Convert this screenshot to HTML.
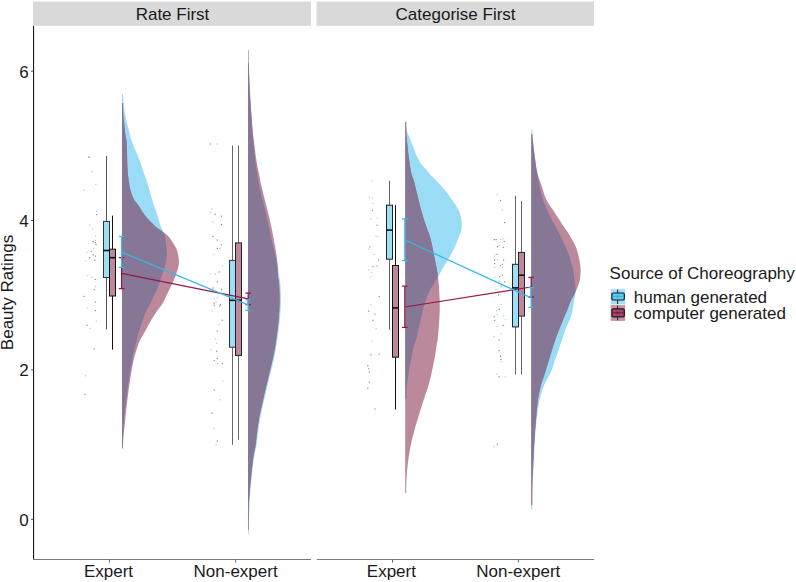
<!DOCTYPE html>
<html><head><meta charset="utf-8"><title>Beauty Ratings</title>
<style>
html,body{margin:0;padding:0;background:#fff;}
body{width:796px;height:582px;overflow:hidden;}
svg{display:block;}
svg text{font-family:"Liberation Sans",sans-serif;font-size:17px;fill:#1a1a1a;}
</style></head><body>
<svg width="796" height="582" viewBox="0 0 796 582">
<rect width="796" height="582" fill="#fff"/>
<clipPath id="ca"><path d="M123.10,93.90 C123.25,96.12 123.62,103.55 124.00,107.20 C124.38,110.85 124.85,112.95 125.40,115.80 C125.95,118.65 126.63,121.45 127.30,124.30 C127.97,127.15 128.73,130.28 129.40,132.90 C130.07,135.52 130.28,137.10 131.30,140.00 C132.32,142.90 134.12,146.87 135.50,150.30 C136.88,153.73 138.32,157.17 139.60,160.60 C140.88,164.03 142.00,167.47 143.20,170.90 C144.40,174.33 145.68,177.77 146.80,181.20 C147.92,184.63 148.98,188.37 149.90,191.50 C150.82,194.63 151.63,197.70 152.30,200.00 C152.97,202.30 153.03,202.70 153.90,205.30 C154.77,207.90 156.38,212.17 157.50,215.60 C158.62,219.03 159.60,223.12 160.60,225.90 C161.60,228.68 162.77,230.58 163.50,232.30 C164.23,234.02 164.53,233.83 165.00,236.20 C165.47,238.57 166.00,243.32 166.30,246.50 C166.60,249.68 166.97,252.12 166.80,255.30 C166.63,258.48 166.17,262.17 165.30,265.60 C164.43,269.03 162.77,272.47 161.60,275.90 C160.43,279.33 159.63,282.77 158.30,286.20 C156.97,289.63 154.90,293.70 153.60,296.50 C152.30,299.30 151.67,300.70 150.50,303.00 C149.33,305.30 147.90,307.37 146.60,310.30 C145.30,313.23 143.95,317.17 142.70,320.60 C141.45,324.03 140.13,327.47 139.10,330.90 C138.07,334.33 137.37,337.77 136.50,341.20 C135.63,344.63 134.60,348.37 133.90,351.50 C133.20,354.63 132.95,356.55 132.30,360.00 C131.65,363.45 130.80,367.30 130.00,372.20 C129.20,377.10 128.27,383.68 127.50,389.40 C126.73,395.12 126.03,400.78 125.40,406.50 C124.77,412.22 124.08,417.97 123.70,423.70 C123.32,429.43 123.20,437.02 123.10,440.90 C123.00,444.78 123.10,445.98 123.10,447.00 L122.00,447.00 L122.00,93.90 Z"/></clipPath>
<path d="M123.10,93.90 C123.25,96.12 123.62,103.55 124.00,107.20 C124.38,110.85 124.85,112.95 125.40,115.80 C125.95,118.65 126.63,121.45 127.30,124.30 C127.97,127.15 128.73,130.28 129.40,132.90 C130.07,135.52 130.28,137.10 131.30,140.00 C132.32,142.90 134.12,146.87 135.50,150.30 C136.88,153.73 138.32,157.17 139.60,160.60 C140.88,164.03 142.00,167.47 143.20,170.90 C144.40,174.33 145.68,177.77 146.80,181.20 C147.92,184.63 148.98,188.37 149.90,191.50 C150.82,194.63 151.63,197.70 152.30,200.00 C152.97,202.30 153.03,202.70 153.90,205.30 C154.77,207.90 156.38,212.17 157.50,215.60 C158.62,219.03 159.60,223.12 160.60,225.90 C161.60,228.68 162.77,230.58 163.50,232.30 C164.23,234.02 164.53,233.83 165.00,236.20 C165.47,238.57 166.00,243.32 166.30,246.50 C166.60,249.68 166.97,252.12 166.80,255.30 C166.63,258.48 166.17,262.17 165.30,265.60 C164.43,269.03 162.77,272.47 161.60,275.90 C160.43,279.33 159.63,282.77 158.30,286.20 C156.97,289.63 154.90,293.70 153.60,296.50 C152.30,299.30 151.67,300.70 150.50,303.00 C149.33,305.30 147.90,307.37 146.60,310.30 C145.30,313.23 143.95,317.17 142.70,320.60 C141.45,324.03 140.13,327.47 139.10,330.90 C138.07,334.33 137.37,337.77 136.50,341.20 C135.63,344.63 134.60,348.37 133.90,351.50 C133.20,354.63 132.95,356.55 132.30,360.00 C131.65,363.45 130.80,367.30 130.00,372.20 C129.20,377.10 128.27,383.68 127.50,389.40 C126.73,395.12 126.03,400.78 125.40,406.50 C124.77,412.22 124.08,417.97 123.70,423.70 C123.32,429.43 123.20,437.02 123.10,440.90 C123.00,444.78 123.10,445.98 123.10,447.00 L122.00,447.00 L122.00,93.90 Z" fill="#9adcf6"/>
<path d="M123.10,102.90 C123.10,103.62 123.05,105.05 123.10,107.20 C123.15,109.35 123.20,112.95 123.40,115.80 C123.60,118.65 124.00,121.45 124.30,124.30 C124.60,127.15 124.85,130.28 125.20,132.90 C125.55,135.52 126.10,137.10 126.40,140.00 C126.70,142.90 126.87,146.87 127.00,150.30 C127.13,153.73 127.08,157.17 127.20,160.60 C127.32,164.03 127.43,167.47 127.70,170.90 C127.97,174.33 128.28,177.77 128.80,181.20 C129.32,184.63 129.87,188.37 130.80,191.50 C131.73,194.63 133.13,197.70 134.40,200.00 C135.67,202.30 136.62,202.70 138.40,205.30 C140.18,207.90 142.35,212.17 145.10,215.60 C147.85,219.03 151.83,223.12 154.90,225.90 C157.97,228.68 161.27,230.58 163.50,232.30 C165.73,234.02 167.02,234.92 168.30,236.20 C169.58,237.48 170.05,238.28 171.20,240.00 C172.35,241.72 174.25,244.83 175.20,246.50 C176.15,248.17 176.38,248.53 176.90,250.00 C177.42,251.47 177.98,253.63 178.30,255.30 C178.62,256.97 178.75,258.28 178.80,260.00 C178.85,261.72 179.13,262.95 178.60,265.60 C178.07,268.25 176.88,272.47 175.60,275.90 C174.32,279.33 172.50,282.77 170.90,286.20 C169.30,289.63 167.33,293.70 166.00,296.50 C164.67,299.30 164.30,300.70 162.90,303.00 C161.50,305.30 159.60,307.37 157.60,310.30 C155.60,313.23 152.95,317.17 150.90,320.60 C148.85,324.03 147.18,327.47 145.30,330.90 C143.42,334.33 141.15,337.77 139.60,341.20 C138.05,344.63 137.00,348.37 136.00,351.50 C135.00,354.63 134.38,356.55 133.60,360.00 C132.82,363.45 132.12,367.30 131.30,372.20 C130.48,377.10 129.48,383.68 128.70,389.40 C127.92,395.12 127.25,400.78 126.60,406.50 C125.95,412.22 125.38,417.97 124.80,423.70 C124.22,429.43 123.38,436.75 123.10,440.90 C122.82,445.05 123.10,447.32 123.10,448.60 L122.00,448.60 L122.00,102.90 Z" fill="#bc899c"/>
<path d="M123.10,102.90 C123.10,103.62 123.05,105.05 123.10,107.20 C123.15,109.35 123.20,112.95 123.40,115.80 C123.60,118.65 124.00,121.45 124.30,124.30 C124.60,127.15 124.85,130.28 125.20,132.90 C125.55,135.52 126.10,137.10 126.40,140.00 C126.70,142.90 126.87,146.87 127.00,150.30 C127.13,153.73 127.08,157.17 127.20,160.60 C127.32,164.03 127.43,167.47 127.70,170.90 C127.97,174.33 128.28,177.77 128.80,181.20 C129.32,184.63 129.87,188.37 130.80,191.50 C131.73,194.63 133.13,197.70 134.40,200.00 C135.67,202.30 136.62,202.70 138.40,205.30 C140.18,207.90 142.35,212.17 145.10,215.60 C147.85,219.03 151.83,223.12 154.90,225.90 C157.97,228.68 161.27,230.58 163.50,232.30 C165.73,234.02 167.02,234.92 168.30,236.20 C169.58,237.48 170.05,238.28 171.20,240.00 C172.35,241.72 174.25,244.83 175.20,246.50 C176.15,248.17 176.38,248.53 176.90,250.00 C177.42,251.47 177.98,253.63 178.30,255.30 C178.62,256.97 178.75,258.28 178.80,260.00 C178.85,261.72 179.13,262.95 178.60,265.60 C178.07,268.25 176.88,272.47 175.60,275.90 C174.32,279.33 172.50,282.77 170.90,286.20 C169.30,289.63 167.33,293.70 166.00,296.50 C164.67,299.30 164.30,300.70 162.90,303.00 C161.50,305.30 159.60,307.37 157.60,310.30 C155.60,313.23 152.95,317.17 150.90,320.60 C148.85,324.03 147.18,327.47 145.30,330.90 C143.42,334.33 141.15,337.77 139.60,341.20 C138.05,344.63 137.00,348.37 136.00,351.50 C135.00,354.63 134.38,356.55 133.60,360.00 C132.82,363.45 132.12,367.30 131.30,372.20 C130.48,377.10 129.48,383.68 128.70,389.40 C127.92,395.12 127.25,400.78 126.60,406.50 C125.95,412.22 125.38,417.97 124.80,423.70 C124.22,429.43 123.38,436.75 123.10,440.90 C122.82,445.05 123.10,447.32 123.10,448.60 L122.00,448.60 L122.00,102.90 Z" fill="#867797" clip-path="url(#ca)"/>
<clipPath id="cb"><path d="M248.80,63.00 C248.90,65.83 249.13,73.83 249.40,80.00 C249.67,86.17 250.05,94.08 250.40,100.00 C250.75,105.92 251.15,110.35 251.50,115.50 C251.85,120.65 252.11,125.75 252.50,130.90 C252.90,136.05 253.42,141.25 253.89,146.40 C254.36,151.55 254.67,156.65 255.33,161.80 C255.98,166.95 257.17,173.43 257.81,177.30 C258.44,181.17 258.32,181.13 259.15,185.00 C259.98,188.87 261.56,195.35 262.80,200.50 C264.03,205.65 265.36,210.75 266.54,215.90 C267.72,221.05 268.73,226.25 269.86,231.40 C270.98,236.55 272.12,241.65 273.27,246.80 C274.42,251.95 275.77,257.60 276.74,262.30 C277.71,267.00 278.49,271.13 279.10,275.00 C279.71,278.87 280.10,281.18 280.40,285.50 C280.70,289.82 280.95,295.75 280.90,300.90 C280.85,306.05 280.50,311.25 280.10,316.40 C279.70,321.55 279.15,326.65 278.50,331.80 C277.85,336.95 276.82,343.43 276.20,347.30 C275.58,351.17 275.63,351.13 274.80,355.00 C273.97,358.87 272.43,365.35 271.20,370.50 C269.97,375.65 268.63,380.75 267.40,385.90 C266.17,391.05 264.95,396.25 263.80,401.40 C262.65,406.55 261.45,411.65 260.50,416.80 C259.55,421.95 258.77,427.60 258.10,432.30 C257.43,437.00 257.17,440.85 256.50,445.00 C255.83,449.15 254.85,452.30 254.10,457.20 C253.35,462.10 252.63,468.68 252.00,474.40 C251.37,480.12 250.73,485.78 250.30,491.50 C249.87,497.22 249.65,502.97 249.40,508.70 C249.15,514.43 248.90,521.60 248.80,525.90 C248.70,530.20 248.80,533.07 248.80,534.50 L248.00,534.50 L248.00,63.00 Z"/></clipPath>
<path d="M248.80,63.00 C248.90,65.83 249.13,73.83 249.40,80.00 C249.67,86.17 250.05,94.08 250.40,100.00 C250.75,105.92 251.15,110.35 251.50,115.50 C251.85,120.65 252.11,125.75 252.50,130.90 C252.90,136.05 253.42,141.25 253.89,146.40 C254.36,151.55 254.67,156.65 255.33,161.80 C255.98,166.95 257.17,173.43 257.81,177.30 C258.44,181.17 258.32,181.13 259.15,185.00 C259.98,188.87 261.56,195.35 262.80,200.50 C264.03,205.65 265.36,210.75 266.54,215.90 C267.72,221.05 268.73,226.25 269.86,231.40 C270.98,236.55 272.12,241.65 273.27,246.80 C274.42,251.95 275.77,257.60 276.74,262.30 C277.71,267.00 278.49,271.13 279.10,275.00 C279.71,278.87 280.10,281.18 280.40,285.50 C280.70,289.82 280.95,295.75 280.90,300.90 C280.85,306.05 280.50,311.25 280.10,316.40 C279.70,321.55 279.15,326.65 278.50,331.80 C277.85,336.95 276.82,343.43 276.20,347.30 C275.58,351.17 275.63,351.13 274.80,355.00 C273.97,358.87 272.43,365.35 271.20,370.50 C269.97,375.65 268.63,380.75 267.40,385.90 C266.17,391.05 264.95,396.25 263.80,401.40 C262.65,406.55 261.45,411.65 260.50,416.80 C259.55,421.95 258.77,427.60 258.10,432.30 C257.43,437.00 257.17,440.85 256.50,445.00 C255.83,449.15 254.85,452.30 254.10,457.20 C253.35,462.10 252.63,468.68 252.00,474.40 C251.37,480.12 250.73,485.78 250.30,491.50 C249.87,497.22 249.65,502.97 249.40,508.70 C249.15,514.43 248.90,521.60 248.80,525.90 C248.70,530.20 248.80,533.07 248.80,534.50 L248.00,534.50 L248.00,63.00 Z" fill="#9adcf6"/>
<path d="M248.80,50.20 C248.80,52.33 248.70,58.03 248.80,63.00 C248.90,67.97 249.13,73.83 249.40,80.00 C249.67,86.17 250.05,94.08 250.40,100.00 C250.75,105.92 251.12,110.35 251.50,115.50 C251.88,120.65 252.18,125.75 252.70,130.90 C253.22,136.05 253.95,141.25 254.60,146.40 C255.25,151.55 255.75,156.65 256.60,161.80 C257.45,166.95 258.93,173.43 259.70,177.30 C260.47,181.17 260.32,181.13 261.20,185.00 C262.08,188.87 263.72,195.35 265.00,200.50 C266.28,205.65 267.68,210.75 268.90,215.90 C270.12,221.05 271.27,226.25 272.30,231.40 C273.33,236.55 274.25,241.65 275.10,246.80 C275.95,251.95 276.93,257.60 277.40,262.30 C277.87,267.00 277.60,271.13 277.90,275.00 C278.20,278.87 278.90,281.18 279.21,285.50 C279.51,289.82 279.76,295.75 279.72,300.90 C279.67,306.05 279.32,311.25 278.93,316.40 C278.53,321.55 277.99,326.65 277.34,331.80 C276.69,336.95 275.66,343.43 275.05,347.30 C274.44,351.17 274.49,351.13 273.66,355.00 C272.82,358.87 271.30,365.35 270.07,370.50 C268.84,375.65 267.51,380.75 266.28,385.90 C265.05,391.05 263.83,396.25 262.69,401.40 C261.54,406.55 260.33,411.65 259.40,416.80 C258.47,421.95 257.73,427.60 257.10,432.30 C256.47,437.00 256.24,440.85 255.61,445.00 C254.98,449.15 254.02,452.30 253.31,457.20 C252.60,462.10 251.95,468.68 251.35,474.40 C250.75,480.12 250.13,485.78 249.70,491.50 C249.27,497.22 248.95,502.28 248.80,508.70 C248.65,515.12 248.80,526.45 248.80,530.00 L248.00,530.00 L248.00,50.20 Z" fill="#bc899c"/>
<path d="M248.80,50.20 C248.80,52.33 248.70,58.03 248.80,63.00 C248.90,67.97 249.13,73.83 249.40,80.00 C249.67,86.17 250.05,94.08 250.40,100.00 C250.75,105.92 251.12,110.35 251.50,115.50 C251.88,120.65 252.18,125.75 252.70,130.90 C253.22,136.05 253.95,141.25 254.60,146.40 C255.25,151.55 255.75,156.65 256.60,161.80 C257.45,166.95 258.93,173.43 259.70,177.30 C260.47,181.17 260.32,181.13 261.20,185.00 C262.08,188.87 263.72,195.35 265.00,200.50 C266.28,205.65 267.68,210.75 268.90,215.90 C270.12,221.05 271.27,226.25 272.30,231.40 C273.33,236.55 274.25,241.65 275.10,246.80 C275.95,251.95 276.93,257.60 277.40,262.30 C277.87,267.00 277.60,271.13 277.90,275.00 C278.20,278.87 278.90,281.18 279.21,285.50 C279.51,289.82 279.76,295.75 279.72,300.90 C279.67,306.05 279.32,311.25 278.93,316.40 C278.53,321.55 277.99,326.65 277.34,331.80 C276.69,336.95 275.66,343.43 275.05,347.30 C274.44,351.17 274.49,351.13 273.66,355.00 C272.82,358.87 271.30,365.35 270.07,370.50 C268.84,375.65 267.51,380.75 266.28,385.90 C265.05,391.05 263.83,396.25 262.69,401.40 C261.54,406.55 260.33,411.65 259.40,416.80 C258.47,421.95 257.73,427.60 257.10,432.30 C256.47,437.00 256.24,440.85 255.61,445.00 C254.98,449.15 254.02,452.30 253.31,457.20 C252.60,462.10 251.95,468.68 251.35,474.40 C250.75,480.12 250.13,485.78 249.70,491.50 C249.27,497.22 248.95,502.28 248.80,508.70 C248.65,515.12 248.80,526.45 248.80,530.00 L248.00,530.00 L248.00,50.20 Z" fill="#867797" clip-path="url(#cb)"/>
<clipPath id="cc"><path d="M406.30,122.00 C406.30,122.67 406.15,124.38 406.30,126.00 C406.45,127.62 406.60,129.60 407.20,131.70 C407.80,133.80 408.98,136.30 409.90,138.60 C410.82,140.90 411.78,143.20 412.70,145.50 C413.62,147.80 414.58,150.32 415.40,152.40 C416.22,154.48 416.30,155.65 417.60,158.00 C418.90,160.35 421.67,164.50 423.20,166.50 C424.73,168.50 425.57,168.58 426.80,170.00 C428.03,171.42 429.08,173.28 430.60,175.00 C432.12,176.72 433.47,177.70 435.90,180.30 C438.33,182.90 442.37,187.17 445.20,190.60 C448.03,194.03 450.58,197.47 452.90,200.90 C455.22,204.33 457.65,207.77 459.10,211.20 C460.55,214.63 461.22,218.37 461.60,221.50 C461.98,224.63 461.75,227.70 461.40,230.00 C461.05,232.30 460.50,232.70 459.50,235.30 C458.50,237.90 456.95,242.17 455.40,245.60 C453.85,249.03 452.10,252.47 450.20,255.90 C448.30,259.33 446.00,262.77 444.00,266.20 C442.00,269.63 440.00,273.37 438.20,276.50 C436.40,279.63 434.58,282.70 433.20,285.00 C431.82,287.30 431.13,287.70 429.90,290.30 C428.67,292.90 427.00,297.17 425.80,300.60 C424.60,304.03 423.60,307.47 422.70,310.90 C421.80,314.33 421.18,317.77 420.40,321.20 C419.62,324.63 418.73,328.37 418.00,331.50 C417.27,334.63 416.68,337.70 416.00,340.00 C415.32,342.30 414.58,342.70 413.90,345.30 C413.22,347.90 412.58,352.17 411.90,355.60 C411.22,359.03 410.42,362.47 409.80,365.90 C409.18,369.33 408.72,372.77 408.20,376.20 C407.68,379.63 407.02,383.37 406.70,386.50 C406.38,389.63 406.37,392.92 406.30,395.00 C406.23,397.08 406.30,398.33 406.30,399.00 L405.20,399.00 L405.20,122.00 Z"/></clipPath>
<path d="M406.30,122.00 C406.30,122.67 406.15,124.38 406.30,126.00 C406.45,127.62 406.60,129.60 407.20,131.70 C407.80,133.80 408.98,136.30 409.90,138.60 C410.82,140.90 411.78,143.20 412.70,145.50 C413.62,147.80 414.58,150.32 415.40,152.40 C416.22,154.48 416.30,155.65 417.60,158.00 C418.90,160.35 421.67,164.50 423.20,166.50 C424.73,168.50 425.57,168.58 426.80,170.00 C428.03,171.42 429.08,173.28 430.60,175.00 C432.12,176.72 433.47,177.70 435.90,180.30 C438.33,182.90 442.37,187.17 445.20,190.60 C448.03,194.03 450.58,197.47 452.90,200.90 C455.22,204.33 457.65,207.77 459.10,211.20 C460.55,214.63 461.22,218.37 461.60,221.50 C461.98,224.63 461.75,227.70 461.40,230.00 C461.05,232.30 460.50,232.70 459.50,235.30 C458.50,237.90 456.95,242.17 455.40,245.60 C453.85,249.03 452.10,252.47 450.20,255.90 C448.30,259.33 446.00,262.77 444.00,266.20 C442.00,269.63 440.00,273.37 438.20,276.50 C436.40,279.63 434.58,282.70 433.20,285.00 C431.82,287.30 431.13,287.70 429.90,290.30 C428.67,292.90 427.00,297.17 425.80,300.60 C424.60,304.03 423.60,307.47 422.70,310.90 C421.80,314.33 421.18,317.77 420.40,321.20 C419.62,324.63 418.73,328.37 418.00,331.50 C417.27,334.63 416.68,337.70 416.00,340.00 C415.32,342.30 414.58,342.70 413.90,345.30 C413.22,347.90 412.58,352.17 411.90,355.60 C411.22,359.03 410.42,362.47 409.80,365.90 C409.18,369.33 408.72,372.77 408.20,376.20 C407.68,379.63 407.02,383.37 406.70,386.50 C406.38,389.63 406.37,392.92 406.30,395.00 C406.23,397.08 406.30,398.33 406.30,399.00 L405.20,399.00 L405.20,122.00 Z" fill="#9adcf6"/>
<path d="M406.30,122.00 C406.30,123.62 406.23,128.93 406.30,131.70 C406.37,134.47 406.50,136.30 406.70,138.60 C406.90,140.90 407.25,143.20 407.50,145.50 C407.75,147.80 407.97,150.32 408.20,152.40 C408.43,154.48 408.58,155.65 408.90,158.00 C409.22,160.35 409.62,163.67 410.10,166.50 C410.58,169.33 411.18,172.70 411.80,175.00 C412.42,177.30 413.05,177.70 413.80,180.30 C414.55,182.90 415.45,187.17 416.30,190.60 C417.15,194.03 418.03,197.47 418.90,200.90 C419.77,204.33 420.55,207.77 421.50,211.20 C422.45,214.63 423.58,218.37 424.60,221.50 C425.62,224.63 426.77,227.70 427.60,230.00 C428.43,232.30 428.83,232.70 429.60,235.30 C430.37,237.90 431.43,242.17 432.20,245.60 C432.97,249.03 433.52,252.47 434.20,255.90 C434.88,259.33 435.67,262.77 436.30,266.20 C436.93,269.63 437.57,273.37 438.00,276.50 C438.43,279.63 438.70,282.70 438.90,285.00 C439.10,287.30 439.07,287.70 439.20,290.30 C439.33,292.90 439.62,297.17 439.70,300.60 C439.78,304.03 439.78,307.47 439.70,310.90 C439.62,314.33 439.42,317.77 439.20,321.20 C438.98,324.63 438.67,328.37 438.40,331.50 C438.13,334.63 437.90,337.70 437.60,340.00 C437.30,342.30 437.02,342.70 436.60,345.30 C436.18,347.90 435.70,352.17 435.10,355.60 C434.50,359.03 433.70,362.47 433.00,365.90 C432.30,369.33 431.70,372.77 430.90,376.20 C430.10,379.63 429.13,383.37 428.20,386.50 C427.27,389.63 426.53,391.27 425.30,395.00 C424.07,398.73 422.50,403.43 420.80,408.90 C419.10,414.37 416.83,421.50 415.10,427.80 C413.37,434.10 411.65,440.40 410.40,446.70 C409.15,453.00 408.28,459.30 407.60,465.60 C406.92,471.90 406.52,479.93 406.30,484.50 C406.08,489.07 406.30,491.58 406.30,493.00 L405.20,493.00 L405.20,122.00 Z" fill="#bc899c"/>
<path d="M406.30,122.00 C406.30,123.62 406.23,128.93 406.30,131.70 C406.37,134.47 406.50,136.30 406.70,138.60 C406.90,140.90 407.25,143.20 407.50,145.50 C407.75,147.80 407.97,150.32 408.20,152.40 C408.43,154.48 408.58,155.65 408.90,158.00 C409.22,160.35 409.62,163.67 410.10,166.50 C410.58,169.33 411.18,172.70 411.80,175.00 C412.42,177.30 413.05,177.70 413.80,180.30 C414.55,182.90 415.45,187.17 416.30,190.60 C417.15,194.03 418.03,197.47 418.90,200.90 C419.77,204.33 420.55,207.77 421.50,211.20 C422.45,214.63 423.58,218.37 424.60,221.50 C425.62,224.63 426.77,227.70 427.60,230.00 C428.43,232.30 428.83,232.70 429.60,235.30 C430.37,237.90 431.43,242.17 432.20,245.60 C432.97,249.03 433.52,252.47 434.20,255.90 C434.88,259.33 435.67,262.77 436.30,266.20 C436.93,269.63 437.57,273.37 438.00,276.50 C438.43,279.63 438.70,282.70 438.90,285.00 C439.10,287.30 439.07,287.70 439.20,290.30 C439.33,292.90 439.62,297.17 439.70,300.60 C439.78,304.03 439.78,307.47 439.70,310.90 C439.62,314.33 439.42,317.77 439.20,321.20 C438.98,324.63 438.67,328.37 438.40,331.50 C438.13,334.63 437.90,337.70 437.60,340.00 C437.30,342.30 437.02,342.70 436.60,345.30 C436.18,347.90 435.70,352.17 435.10,355.60 C434.50,359.03 433.70,362.47 433.00,365.90 C432.30,369.33 431.70,372.77 430.90,376.20 C430.10,379.63 429.13,383.37 428.20,386.50 C427.27,389.63 426.53,391.27 425.30,395.00 C424.07,398.73 422.50,403.43 420.80,408.90 C419.10,414.37 416.83,421.50 415.10,427.80 C413.37,434.10 411.65,440.40 410.40,446.70 C409.15,453.00 408.28,459.30 407.60,465.60 C406.92,471.90 406.52,479.93 406.30,484.50 C406.08,489.07 406.30,491.58 406.30,493.00 L405.20,493.00 L405.20,122.00 Z" fill="#867797" clip-path="url(#cc)"/>
<clipPath id="cd"><path d="M532.30,129.60 C532.40,131.42 532.50,136.12 532.90,140.50 C533.30,144.88 534.02,150.75 534.70,155.90 C535.38,161.05 536.18,166.25 537.00,171.40 C537.82,176.55 538.47,181.65 539.60,186.80 C540.73,191.95 542.50,198.43 543.80,202.30 C545.10,206.17 546.43,207.83 547.40,210.00 C548.37,212.17 548.87,213.63 549.60,215.30 C550.33,216.97 550.90,218.28 551.80,220.00 C552.70,221.72 553.53,222.95 555.00,225.60 C556.47,228.25 558.88,232.47 560.60,235.90 C562.32,239.33 563.83,242.77 565.30,246.20 C566.77,249.63 568.32,253.37 569.40,256.50 C570.48,259.63 571.15,262.70 571.80,265.00 C572.45,267.30 572.85,267.70 573.30,270.30 C573.75,272.90 574.12,277.17 574.50,280.60 C574.88,284.03 575.68,287.47 575.60,290.90 C575.52,294.33 574.55,297.77 574.00,301.20 C573.45,304.63 573.00,308.37 572.30,311.50 C571.60,314.63 570.67,317.70 569.80,320.00 C568.93,322.30 568.15,322.70 567.10,325.30 C566.05,327.90 564.70,332.17 563.50,335.60 C562.30,339.03 561.10,342.47 559.90,345.90 C558.70,349.33 557.47,352.77 556.30,356.20 C555.13,359.63 554.02,363.37 552.90,366.50 C551.78,369.63 551.08,371.83 549.60,375.00 C548.12,378.17 545.70,381.18 544.00,385.50 C542.30,389.82 540.57,395.75 539.40,400.90 C538.23,406.05 537.65,411.25 537.00,416.40 C536.35,421.55 535.90,426.65 535.50,431.80 C535.10,436.95 534.90,442.27 534.60,447.30 C534.30,452.33 533.93,457.55 533.70,462.00 C533.47,466.45 533.40,470.00 533.20,474.00 C533.00,478.00 532.65,482.00 532.50,486.00 C532.35,490.00 532.33,494.07 532.30,498.00 C532.27,501.93 532.30,507.67 532.30,509.60 L531.20,509.60 L531.20,129.60 Z"/></clipPath>
<path d="M532.30,129.60 C532.40,131.42 532.50,136.12 532.90,140.50 C533.30,144.88 534.02,150.75 534.70,155.90 C535.38,161.05 536.18,166.25 537.00,171.40 C537.82,176.55 538.47,181.65 539.60,186.80 C540.73,191.95 542.50,198.43 543.80,202.30 C545.10,206.17 546.43,207.83 547.40,210.00 C548.37,212.17 548.87,213.63 549.60,215.30 C550.33,216.97 550.90,218.28 551.80,220.00 C552.70,221.72 553.53,222.95 555.00,225.60 C556.47,228.25 558.88,232.47 560.60,235.90 C562.32,239.33 563.83,242.77 565.30,246.20 C566.77,249.63 568.32,253.37 569.40,256.50 C570.48,259.63 571.15,262.70 571.80,265.00 C572.45,267.30 572.85,267.70 573.30,270.30 C573.75,272.90 574.12,277.17 574.50,280.60 C574.88,284.03 575.68,287.47 575.60,290.90 C575.52,294.33 574.55,297.77 574.00,301.20 C573.45,304.63 573.00,308.37 572.30,311.50 C571.60,314.63 570.67,317.70 569.80,320.00 C568.93,322.30 568.15,322.70 567.10,325.30 C566.05,327.90 564.70,332.17 563.50,335.60 C562.30,339.03 561.10,342.47 559.90,345.90 C558.70,349.33 557.47,352.77 556.30,356.20 C555.13,359.63 554.02,363.37 552.90,366.50 C551.78,369.63 551.08,371.83 549.60,375.00 C548.12,378.17 545.70,381.18 544.00,385.50 C542.30,389.82 540.57,395.75 539.40,400.90 C538.23,406.05 537.65,411.25 537.00,416.40 C536.35,421.55 535.90,426.65 535.50,431.80 C535.10,436.95 534.90,442.27 534.60,447.30 C534.30,452.33 533.93,457.55 533.70,462.00 C533.47,466.45 533.40,470.00 533.20,474.00 C533.00,478.00 532.65,482.00 532.50,486.00 C532.35,490.00 532.33,494.07 532.30,498.00 C532.27,501.93 532.30,507.67 532.30,509.60 L531.20,509.60 L531.20,129.60 Z" fill="#9adcf6"/>
<path d="M532.30,134.30 C532.40,135.33 532.50,136.90 532.90,140.50 C533.30,144.10 534.02,150.75 534.70,155.90 C535.38,161.05 535.80,166.25 537.00,171.40 C538.20,176.55 540.65,182.87 541.90,186.80 C543.15,190.73 543.52,192.42 544.50,195.00 C545.48,197.58 546.38,199.80 547.80,202.30 C549.22,204.80 551.58,207.83 553.00,210.00 C554.42,212.17 555.22,213.63 556.30,215.30 C557.38,216.97 558.38,218.28 559.50,220.00 C560.62,221.72 561.25,222.95 563.00,225.60 C564.75,228.25 567.90,232.47 570.00,235.90 C572.10,239.33 574.15,242.77 575.60,246.20 C577.05,249.63 577.93,253.37 578.70,256.50 C579.47,259.63 579.88,262.70 580.20,265.00 C580.52,267.30 580.68,267.70 580.60,270.30 C580.52,272.90 580.47,277.17 579.70,280.60 C578.93,284.03 577.52,287.47 576.00,290.90 C574.48,294.33 572.15,297.77 570.60,301.20 C569.05,304.63 567.62,309.20 566.70,311.50 C565.78,313.80 566.07,312.70 565.10,315.00 C564.13,317.30 562.28,321.87 560.90,325.30 C559.52,328.73 558.08,332.17 556.80,335.60 C555.52,339.03 554.32,342.47 553.20,345.90 C552.08,349.33 551.13,352.77 550.10,356.20 C549.07,359.63 547.95,363.37 547.00,366.50 C546.05,369.63 545.42,371.83 544.40,375.00 C543.38,378.17 542.00,381.18 540.90,385.50 C539.80,389.82 538.57,395.75 537.80,400.90 C537.03,406.05 536.77,411.25 536.30,416.40 C535.83,421.55 535.38,426.65 535.00,431.80 C534.62,436.95 534.27,442.27 534.00,447.30 C533.73,452.33 533.65,456.55 533.40,462.00 C533.15,467.45 532.68,472.83 532.50,480.00 C532.32,487.17 532.33,500.83 532.30,505.00 L531.20,505.00 L531.20,134.30 Z" fill="#bc899c"/>
<path d="M532.30,134.30 C532.40,135.33 532.50,136.90 532.90,140.50 C533.30,144.10 534.02,150.75 534.70,155.90 C535.38,161.05 535.80,166.25 537.00,171.40 C538.20,176.55 540.65,182.87 541.90,186.80 C543.15,190.73 543.52,192.42 544.50,195.00 C545.48,197.58 546.38,199.80 547.80,202.30 C549.22,204.80 551.58,207.83 553.00,210.00 C554.42,212.17 555.22,213.63 556.30,215.30 C557.38,216.97 558.38,218.28 559.50,220.00 C560.62,221.72 561.25,222.95 563.00,225.60 C564.75,228.25 567.90,232.47 570.00,235.90 C572.10,239.33 574.15,242.77 575.60,246.20 C577.05,249.63 577.93,253.37 578.70,256.50 C579.47,259.63 579.88,262.70 580.20,265.00 C580.52,267.30 580.68,267.70 580.60,270.30 C580.52,272.90 580.47,277.17 579.70,280.60 C578.93,284.03 577.52,287.47 576.00,290.90 C574.48,294.33 572.15,297.77 570.60,301.20 C569.05,304.63 567.62,309.20 566.70,311.50 C565.78,313.80 566.07,312.70 565.10,315.00 C564.13,317.30 562.28,321.87 560.90,325.30 C559.52,328.73 558.08,332.17 556.80,335.60 C555.52,339.03 554.32,342.47 553.20,345.90 C552.08,349.33 551.13,352.77 550.10,356.20 C549.07,359.63 547.95,363.37 547.00,366.50 C546.05,369.63 545.42,371.83 544.40,375.00 C543.38,378.17 542.00,381.18 540.90,385.50 C539.80,389.82 538.57,395.75 537.80,400.90 C537.03,406.05 536.77,411.25 536.30,416.40 C535.83,421.55 535.38,426.65 535.00,431.80 C534.62,436.95 534.27,442.27 534.00,447.30 C533.73,452.33 533.65,456.55 533.40,462.00 C533.15,467.45 532.68,472.83 532.50,480.00 C532.32,487.17 532.33,500.83 532.30,505.00 L531.20,505.00 L531.20,134.30 Z" fill="#867797" clip-path="url(#cd)"/>
<rect x="88.1" y="155.9" width="1.2" height="1.2" fill="#8fd3f0"/><rect x="91.1" y="170.9" width="1.2" height="1.2" fill="#8fd3f0"/><rect x="95.2" y="183.8" width="1.2" height="1.2" fill="#8fd3f0"/><rect x="83.7" y="189.8" width="1.2" height="1.2" fill="#8fd3f0"/><rect x="96.0" y="210.7" width="1.2" height="1.2" fill="#8fd3f0"/><rect x="89.4" y="224.7" width="1.2" height="1.2" fill="#8fd3f0"/><rect x="92.1" y="228.6" width="1.2" height="1.2" fill="#8fd3f0"/><rect x="95.0" y="235.7" width="1.2" height="1.2" fill="#8fd3f0"/><rect x="94.7" y="239.9" width="1.2" height="1.2" fill="#8fd3f0"/><rect x="92.9" y="247.9" width="1.2" height="1.2" fill="#8fd3f0"/><rect x="86.4" y="251.8" width="1.2" height="1.2" fill="#8fd3f0"/><rect x="85.5" y="260.4" width="1.2" height="1.2" fill="#8fd3f0"/><rect x="86.4" y="275.1" width="1.2" height="1.2" fill="#8fd3f0"/><rect x="91.1" y="276.6" width="1.2" height="1.2" fill="#8fd3f0"/><rect x="94.8" y="285.9" width="1.2" height="1.2" fill="#8fd3f0"/><rect x="86.4" y="307.6" width="1.2" height="1.2" fill="#8fd3f0"/><rect x="95.8" y="320.6" width="1.2" height="1.2" fill="#8fd3f0"/><rect x="89.6" y="327.8" width="1.2" height="1.2" fill="#8fd3f0"/><rect x="84.9" y="375.2" width="1.2" height="1.2" fill="#8fd3f0"/><rect x="216.7" y="143.4" width="1.2" height="1.2" fill="#8fd3f0"/><rect x="211.4" y="208.4" width="1.2" height="1.2" fill="#8fd3f0"/><rect x="209.9" y="211.6" width="1.2" height="1.2" fill="#8fd3f0"/><rect x="212.4" y="221.5" width="1.2" height="1.2" fill="#8fd3f0"/><rect x="219.2" y="247.8" width="1.2" height="1.2" fill="#8fd3f0"/><rect x="213.6" y="254.1" width="1.2" height="1.2" fill="#8fd3f0"/><rect x="221.7" y="265.2" width="1.2" height="1.2" fill="#8fd3f0"/><rect x="209.9" y="273.6" width="1.2" height="1.2" fill="#8fd3f0"/><rect x="214.6" y="273.6" width="1.2" height="1.2" fill="#8fd3f0"/><rect x="213.6" y="298.4" width="1.2" height="1.2" fill="#8fd3f0"/><rect x="216.7" y="296.8" width="1.2" height="1.2" fill="#8fd3f0"/><rect x="215.5" y="301.4" width="1.2" height="1.2" fill="#8fd3f0"/><rect x="211.4" y="310.3" width="1.2" height="1.2" fill="#8fd3f0"/><rect x="218.6" y="323.6" width="1.2" height="1.2" fill="#8fd3f0"/><rect x="214.6" y="338.2" width="1.2" height="1.2" fill="#8fd3f0"/><rect x="216.1" y="342.8" width="1.2" height="1.2" fill="#8fd3f0"/><rect x="210.5" y="349.0" width="1.2" height="1.2" fill="#8fd3f0"/><rect x="216.7" y="363.0" width="1.2" height="1.2" fill="#8fd3f0"/><rect x="222.3" y="380.6" width="1.2" height="1.2" fill="#8fd3f0"/><rect x="219.2" y="399.2" width="1.2" height="1.2" fill="#8fd3f0"/><rect x="213.6" y="428.1" width="1.2" height="1.2" fill="#8fd3f0"/><rect x="215.5" y="444.5" width="1.2" height="1.2" fill="#8fd3f0"/><rect x="371.2" y="180.3" width="1.2" height="1.2" fill="#8fd3f0"/><rect x="368.7" y="196.7" width="1.2" height="1.2" fill="#8fd3f0"/><rect x="371.8" y="197.3" width="1.2" height="1.2" fill="#8fd3f0"/><rect x="372.4" y="202.9" width="1.2" height="1.2" fill="#8fd3f0"/><rect x="370.3" y="218.4" width="1.2" height="1.2" fill="#8fd3f0"/><rect x="376.5" y="217.5" width="1.2" height="1.2" fill="#8fd3f0"/><rect x="375.5" y="235.1" width="1.2" height="1.2" fill="#8fd3f0"/><rect x="377.4" y="236.1" width="1.2" height="1.2" fill="#8fd3f0"/><rect x="368.1" y="248.5" width="1.2" height="1.2" fill="#8fd3f0"/><rect x="373.4" y="253.7" width="1.2" height="1.2" fill="#8fd3f0"/><rect x="368.1" y="269.2" width="1.2" height="1.2" fill="#8fd3f0"/><rect x="371.2" y="271.7" width="1.2" height="1.2" fill="#8fd3f0"/><rect x="370.3" y="276.4" width="1.2" height="1.2" fill="#8fd3f0"/><rect x="370.3" y="304.3" width="1.2" height="1.2" fill="#8fd3f0"/><rect x="375.5" y="328.2" width="1.2" height="1.2" fill="#8fd3f0"/><rect x="371.2" y="340.6" width="1.2" height="1.2" fill="#8fd3f0"/><rect x="496.8" y="194.1" width="1.2" height="1.2" fill="#8fd3f0"/><rect x="501.8" y="209.2" width="1.2" height="1.2" fill="#8fd3f0"/><rect x="500.3" y="239.0" width="1.2" height="1.2" fill="#8fd3f0"/><rect x="502.1" y="238.2" width="1.2" height="1.2" fill="#8fd3f0"/><rect x="498.4" y="244.9" width="1.2" height="1.2" fill="#8fd3f0"/><rect x="494.1" y="254.2" width="1.2" height="1.2" fill="#8fd3f0"/><rect x="496.8" y="259.2" width="1.2" height="1.2" fill="#8fd3f0"/><rect x="494.1" y="266.6" width="1.2" height="1.2" fill="#8fd3f0"/><rect x="501.8" y="266.6" width="1.2" height="1.2" fill="#8fd3f0"/><rect x="494.1" y="276.2" width="1.2" height="1.2" fill="#8fd3f0"/><rect x="498.7" y="280.6" width="1.2" height="1.2" fill="#8fd3f0"/><rect x="495.3" y="289.1" width="1.2" height="1.2" fill="#8fd3f0"/><rect x="500.6" y="303.9" width="1.2" height="1.2" fill="#8fd3f0"/><rect x="495.9" y="310.1" width="1.2" height="1.2" fill="#8fd3f0"/><rect x="496.8" y="313.9" width="1.2" height="1.2" fill="#8fd3f0"/><rect x="503.0" y="315.5" width="1.2" height="1.2" fill="#8fd3f0"/><rect x="504.9" y="319.1" width="1.2" height="1.2" fill="#8fd3f0"/><rect x="496.8" y="325.9" width="1.2" height="1.2" fill="#8fd3f0"/><rect x="500.6" y="333.6" width="1.2" height="1.2" fill="#8fd3f0"/><rect x="493.7" y="336.1" width="1.2" height="1.2" fill="#8fd3f0"/><rect x="499.9" y="355.0" width="1.2" height="1.2" fill="#8fd3f0"/><rect x="500.6" y="361.2" width="1.2" height="1.2" fill="#8fd3f0"/><rect x="496.2" y="373.6" width="1.2" height="1.2" fill="#8fd3f0"/><rect x="504.6" y="376.1" width="1.2" height="1.2" fill="#8fd3f0"/><rect x="493.1" y="445.9" width="1.2" height="1.2" fill="#8fd3f0"/><rect x="88.7" y="156.8" width="1.2" height="1.2" fill="#b0788c"/><rect x="95.9" y="214.0" width="1.2" height="1.2" fill="#b0788c"/><rect x="94.7" y="242.0" width="1.2" height="1.2" fill="#b0788c"/><rect x="95.4" y="243.9" width="1.2" height="1.2" fill="#b0788c"/><rect x="92.7" y="241.0" width="1.2" height="1.2" fill="#b0788c"/><rect x="90.5" y="250.9" width="1.2" height="1.2" fill="#b0788c"/><rect x="92.7" y="254.3" width="1.2" height="1.2" fill="#b0788c"/><rect x="88.9" y="257.1" width="1.2" height="1.2" fill="#b0788c"/><rect x="94.8" y="255.5" width="1.2" height="1.2" fill="#b0788c"/><rect x="94.2" y="259.6" width="1.2" height="1.2" fill="#b0788c"/><rect x="94.8" y="278.8" width="1.2" height="1.2" fill="#b0788c"/><rect x="93.6" y="289.0" width="1.2" height="1.2" fill="#b0788c"/><rect x="83.4" y="295.8" width="1.2" height="1.2" fill="#b0788c"/><rect x="94.8" y="301.4" width="1.2" height="1.2" fill="#b0788c"/><rect x="94.8" y="310.1" width="1.2" height="1.2" fill="#b0788c"/><rect x="86.4" y="324.7" width="1.2" height="1.2" fill="#b0788c"/><rect x="93.6" y="348.5" width="1.2" height="1.2" fill="#b0788c"/><rect x="84.3" y="393.8" width="1.2" height="1.2" fill="#b0788c"/><rect x="209.9" y="143.4" width="1.2" height="1.2" fill="#b0788c"/><rect x="214.6" y="213.7" width="1.2" height="1.2" fill="#b0788c"/><rect x="220.8" y="215.6" width="1.2" height="1.2" fill="#b0788c"/><rect x="220.8" y="224.0" width="1.2" height="1.2" fill="#b0788c"/><rect x="212.4" y="235.8" width="1.2" height="1.2" fill="#b0788c"/><rect x="216.7" y="239.4" width="1.2" height="1.2" fill="#b0788c"/><rect x="220.8" y="244.1" width="1.2" height="1.2" fill="#b0788c"/><rect x="216.7" y="247.8" width="1.2" height="1.2" fill="#b0788c"/><rect x="218.6" y="271.4" width="1.2" height="1.2" fill="#b0788c"/><rect x="216.7" y="281.4" width="1.2" height="1.2" fill="#b0788c"/><rect x="212.4" y="287.4" width="1.2" height="1.2" fill="#b0788c"/><rect x="220.8" y="289.1" width="1.2" height="1.2" fill="#b0788c"/><rect x="213.6" y="304.6" width="1.2" height="1.2" fill="#b0788c"/><rect x="219.2" y="305.4" width="1.2" height="1.2" fill="#b0788c"/><rect x="213.6" y="302.5" width="1.2" height="1.2" fill="#b0788c"/><rect x="219.8" y="304.1" width="1.2" height="1.2" fill="#b0788c"/><rect x="221.7" y="319.6" width="1.2" height="1.2" fill="#b0788c"/><rect x="216.7" y="330.4" width="1.2" height="1.2" fill="#b0788c"/><rect x="216.1" y="350.6" width="1.2" height="1.2" fill="#b0788c"/><rect x="216.7" y="357.7" width="1.2" height="1.2" fill="#b0788c"/><rect x="213.6" y="359.9" width="1.2" height="1.2" fill="#b0788c"/><rect x="221.7" y="363.0" width="1.2" height="1.2" fill="#b0788c"/><rect x="213.6" y="389.3" width="1.2" height="1.2" fill="#b0788c"/><rect x="211.4" y="412.6" width="1.2" height="1.2" fill="#b0788c"/><rect x="216.7" y="440.5" width="1.2" height="1.2" fill="#b0788c"/><rect x="371.8" y="209.7" width="1.2" height="1.2" fill="#b0788c"/><rect x="376.5" y="224.6" width="1.2" height="1.2" fill="#b0788c"/><rect x="369.3" y="246.3" width="1.2" height="1.2" fill="#b0788c"/><rect x="378.0" y="259.4" width="1.2" height="1.2" fill="#b0788c"/><rect x="372.4" y="266.1" width="1.2" height="1.2" fill="#b0788c"/><rect x="376.5" y="265.5" width="1.2" height="1.2" fill="#b0788c"/><rect x="378.6" y="295.9" width="1.2" height="1.2" fill="#b0788c"/><rect x="368.1" y="310.5" width="1.2" height="1.2" fill="#b0788c"/><rect x="374.3" y="313.6" width="1.2" height="1.2" fill="#b0788c"/><rect x="372.4" y="319.8" width="1.2" height="1.2" fill="#b0788c"/><rect x="370.3" y="354.2" width="1.2" height="1.2" fill="#b0788c"/><rect x="378.6" y="353.6" width="1.2" height="1.2" fill="#b0788c"/><rect x="367.2" y="365.1" width="1.2" height="1.2" fill="#b0788c"/><rect x="368.1" y="368.2" width="1.2" height="1.2" fill="#b0788c"/><rect x="368.7" y="371.3" width="1.2" height="1.2" fill="#b0788c"/><rect x="368.7" y="381.5" width="1.2" height="1.2" fill="#b0788c"/><rect x="367.2" y="387.7" width="1.2" height="1.2" fill="#b0788c"/><rect x="374.3" y="408.5" width="1.2" height="1.2" fill="#b0788c"/><rect x="499.9" y="199.9" width="1.2" height="1.2" fill="#b0788c"/><rect x="504.1" y="222.0" width="1.2" height="1.2" fill="#b0788c"/><rect x="493.7" y="239.0" width="1.2" height="1.2" fill="#b0788c"/><rect x="495.6" y="239.0" width="1.2" height="1.2" fill="#b0788c"/><rect x="503.7" y="240.9" width="1.2" height="1.2" fill="#b0788c"/><rect x="496.8" y="246.0" width="1.2" height="1.2" fill="#b0788c"/><rect x="502.6" y="246.8" width="1.2" height="1.2" fill="#b0788c"/><rect x="496.4" y="253.7" width="1.2" height="1.2" fill="#b0788c"/><rect x="494.1" y="259.5" width="1.2" height="1.2" fill="#b0788c"/><rect x="503.0" y="259.5" width="1.2" height="1.2" fill="#b0788c"/><rect x="494.1" y="263.0" width="1.2" height="1.2" fill="#b0788c"/><rect x="499.9" y="265.1" width="1.2" height="1.2" fill="#b0788c"/><rect x="501.8" y="263.8" width="1.2" height="1.2" fill="#b0788c"/><rect x="499.0" y="275.9" width="1.2" height="1.2" fill="#b0788c"/><rect x="501.8" y="274.4" width="1.2" height="1.2" fill="#b0788c"/><rect x="504.1" y="281.4" width="1.2" height="1.2" fill="#b0788c"/><rect x="500.6" y="285.6" width="1.2" height="1.2" fill="#b0788c"/><rect x="497.9" y="294.2" width="1.2" height="1.2" fill="#b0788c"/><rect x="498.7" y="308.8" width="1.2" height="1.2" fill="#b0788c"/><rect x="493.7" y="316.0" width="1.2" height="1.2" fill="#b0788c"/><rect x="494.1" y="319.7" width="1.2" height="1.2" fill="#b0788c"/><rect x="502.6" y="324.8" width="1.2" height="1.2" fill="#b0788c"/><rect x="498.4" y="339.5" width="1.2" height="1.2" fill="#b0788c"/><rect x="498.4" y="350.1" width="1.2" height="1.2" fill="#b0788c"/><rect x="500.3" y="358.9" width="1.2" height="1.2" fill="#b0788c"/><rect x="499.9" y="356.0" width="1.2" height="1.2" fill="#b0788c"/><rect x="498.4" y="376.1" width="1.2" height="1.2" fill="#b0788c"/><rect x="496.8" y="443.7" width="1.2" height="1.2" fill="#b0788c"/>
<rect x="106.0" y="156.0" width="1" height="65.4" fill="#555"/><rect x="106.0" y="277.5" width="1" height="52.0" fill="#555"/><rect x="103.5" y="221.4" width="6.0" height="56.1" fill="#9ddff7" stroke="#333" stroke-width="1"/><rect x="103.0" y="249.7" width="7.0" height="1.6" fill="#111"/><rect x="112.0" y="215.6" width="1" height="33.6" fill="#111"/><rect x="112.0" y="296.0" width="1" height="53.6" fill="#111"/><rect x="109.5" y="249.2" width="6.0" height="46.8" fill="#bd889b" stroke="#111" stroke-width="1"/><rect x="109.0" y="256.9" width="7.0" height="1.6" fill="#111"/><rect x="232.0" y="145.5" width="1" height="114.9" fill="#666"/><rect x="232.0" y="347.2" width="1" height="97.6" fill="#666"/><rect x="229.5" y="260.4" width="6.0" height="86.8" fill="#9ddff7" stroke="#333" stroke-width="1"/><rect x="229.0" y="299.5" width="7.0" height="1.6" fill="#111"/><rect x="238.0" y="145.5" width="1" height="97.4" fill="#666"/><rect x="238.0" y="355.4" width="1" height="84.4" fill="#666"/><rect x="235.5" y="242.9" width="6.0" height="112.5" fill="#bd889b" stroke="#222" stroke-width="1"/><rect x="235.0" y="299.5" width="7.0" height="1.6" fill="#111"/><rect x="389.0" y="180.6" width="1" height="24.6" fill="#666"/><rect x="389.0" y="259.2" width="1" height="70.5" fill="#666"/><rect x="386.5" y="205.2" width="6.0" height="54.0" fill="#9ddff7" stroke="#222" stroke-width="1"/><rect x="386.0" y="229.3" width="7.0" height="1.6" fill="#111"/><rect x="395.0" y="205.2" width="1" height="60.3" fill="#111"/><rect x="395.0" y="357.2" width="1" height="52.3" fill="#111"/><rect x="392.5" y="265.5" width="6.0" height="91.7" fill="#bd889b" stroke="#111" stroke-width="1"/><rect x="392.0" y="307.1" width="7.0" height="1.6" fill="#111"/><rect x="515.0" y="195.8" width="1" height="68.5" fill="#666"/><rect x="515.0" y="326.9" width="1" height="47.7" fill="#666"/><rect x="512.5" y="264.3" width="6.0" height="62.6" fill="#9ddff7" stroke="#222" stroke-width="1"/><rect x="512.0" y="287.1" width="7.0" height="1.6" fill="#111"/><rect x="521.0" y="201.0" width="1" height="51.4" fill="#666"/><rect x="521.0" y="316.1" width="1" height="58.5" fill="#666"/><rect x="518.5" y="252.4" width="6.0" height="63.7" fill="#bd889b" stroke="#222" stroke-width="1"/><rect x="518.0" y="274.4" width="7.0" height="1.6" fill="#111"/>
<line x1="121.6" y1="273.3" x2="248.2" y2="298.9" stroke="#921a47" stroke-width="1.25"/><path d="M121.6,257.7 V288.6 M118.8,257.7 H124.4 M118.8,288.6 H124.4" stroke="#921a47" stroke-width="1.25" fill="none"/><path d="M248.2,293.1 V304.6 M245.4,293.1 H251.0 M245.4,304.6 H251.0" stroke="#921a47" stroke-width="1.25" fill="none"/><line x1="121.6" y1="252.1" x2="248.2" y2="304.9" stroke="#3bb6e8" stroke-width="1.25"/><path d="M121.6,236.4 V267.4 M118.8,236.4 H124.4 M118.8,267.4 H124.4" stroke="#3bb6e8" stroke-width="1.25" fill="none"/><path d="M248.2,299.5 V310.3 M245.4,299.5 H251.0 M245.4,310.3 H251.0" stroke="#3bb6e8" stroke-width="1.25" fill="none"/><line x1="404.8" y1="307.0" x2="531.2" y2="287.0" stroke="#921a47" stroke-width="1.25"/><path d="M404.8,286.0 V327.4 M402.0,286.0 H407.6 M402.0,327.4 H407.6" stroke="#921a47" stroke-width="1.25" fill="none"/><path d="M531.2,277.4 V297.0 M528.4,277.4 H534.0 M528.4,297.0 H534.0" stroke="#921a47" stroke-width="1.25" fill="none"/><line x1="404.8" y1="240.0" x2="531.2" y2="297.9" stroke="#3bb6e8" stroke-width="1.25"/><path d="M404.8,218.9 V260.6 M402.0,218.9 H407.6 M402.0,260.6 H407.6" stroke="#3bb6e8" stroke-width="1.25" fill="none"/><path d="M531.2,287.5 V307.3 M528.4,287.5 H534.0 M528.4,307.3 H534.0" stroke="#3bb6e8" stroke-width="1.25" fill="none"/>
<rect x="33" y="1.5" width="278" height="24.3" fill="#d9d9d9"/><rect x="316.5" y="1.5" width="277.5" height="24.3" fill="#d9d9d9"/><text x="172.5" y="19.8" text-anchor="middle">Rate First</text><text x="455.6" y="19.8" text-anchor="middle">Categorise First</text><rect x="33" y="26" width="1.1" height="533.6" fill="#1a1a1a"/><rect x="33" y="559" width="278" height="1" fill="#7a7a7a"/><rect x="316.8" y="559" width="277.2" height="1" fill="#7a7a7a"/><rect x="31" y="70.6" width="2" height="1" fill="#555"/><text x="28.6" y="77.6" text-anchor="end">6</text><rect x="31" y="220.0" width="2" height="1" fill="#555"/><text x="28.6" y="227.0" text-anchor="end">4</text><rect x="31" y="369.4" width="2" height="1" fill="#555"/><text x="28.6" y="376.4" text-anchor="end">2</text><rect x="31" y="518.8" width="2" height="1" fill="#555"/><text x="28.6" y="525.8" text-anchor="end">0</text><rect x="109.0" y="559.5" width="1" height="3" fill="#666"/><text x="108.5" y="576.8" text-anchor="middle">Expert</text><rect x="235.1" y="559.5" width="1" height="3" fill="#666"/><text x="235.6" y="576.8" text-anchor="middle">Non-expert</text><rect x="392.0" y="559.5" width="1" height="3" fill="#666"/><text x="391.4" y="576.8" text-anchor="middle">Expert</text><rect x="517.9" y="559.5" width="1" height="3" fill="#666"/><text x="518.3" y="576.8" text-anchor="middle">Non-expert</text><text transform="translate(13.4,292.5) rotate(-90)" text-anchor="middle">Beauty Ratings</text>
<text x="609.6" y="278.6">Source of Choreography</text><rect x="610.7" y="289.2" width="14.5" height="15.3" fill="#a4def5"/><rect x="617.1" y="289.7" width="1" height="14.3" fill="#222"/><rect x="611.9" y="293.0" width="12.4" height="7.0" rx="1.3" fill="#5ecdf3" stroke="#1a1a1a" stroke-width="1.2"/><rect x="612.5" y="295.9" width="11.2" height="1.2" fill="#2fb3e6" opacity="0.8"/><circle cx="617.6" cy="296.5" r="1.3" fill="#2fb3e6"/><text x="633.8" y="303.2">human generated</text><rect x="610.7" y="305.1" width="14.5" height="15.8" fill="#c792a7"/><rect x="617.1" y="305.6" width="1" height="14.8" fill="#222"/><rect x="611.9" y="308.8" width="12.4" height="8.0" rx="1.3" fill="#a0466b" stroke="#1a1a1a" stroke-width="1.2"/><rect x="612.5" y="312.2" width="11.2" height="1.2" fill="#85123f" opacity="0.8"/><circle cx="617.6" cy="312.8" r="1.3" fill="#85123f"/><text x="633.8" y="319.0">computer generated</text>
</svg>
</body></html>
